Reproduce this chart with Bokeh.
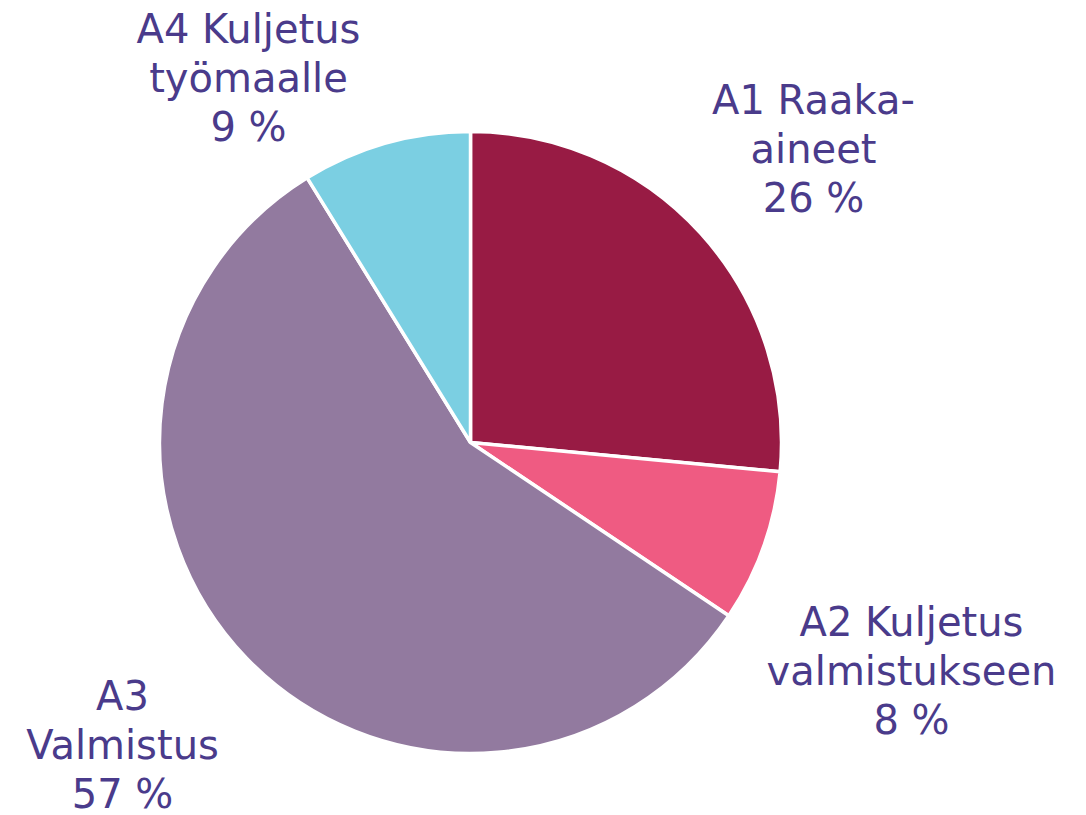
from bokeh.plotting import figure
from bokeh.models import Range1d
from bokeh.core.properties import value
from bokeh.embed import file_html
from bokeh.resources import INLINE
import math

# data
categories = ["A1 Raaka-\naineet", "A2 Kuljetus\nvalmistukseen", "A3\nValmistus", "A4 Kuljetus\ntyömaalle"]
shares = [26.5, 7.9, 56.8, 8.8]
pct_labels = ["26 %", "8 %", "57 %", "9 %"]
colors = ["#981B44", "#EF5B82", "#927A9F", "#7BCFE2"]

# layout (picture pixel coordinates)
W, H = 1086, 815
cx, cy, R = 470, 442, 311
label_anchor = [(813, 113), (911, 635), (122, 709), (248, 42)]
line_step = 49
baseline_fix = -14

p = figure(width=W, height=H, output_backend="svg", toolbar_location=None,
           x_range=Range1d(0, W), y_range=Range1d(-H, 0), min_border=0)
p.axis.visible = False
p.grid.visible = False
p.outline_line_color = None
p.background_fill_color = "white"

total = sum(shares)
cum = 0.0
starts, ends = [], []
for s in shares:
    a0 = math.pi / 2 - 2 * math.pi * cum / total
    cum += s
    a1 = math.pi / 2 - 2 * math.pi * cum / total
    starts.append(a0)
    ends.append(a1)

p.wedge(x=[cx] * 4, y=[-cy] * 4, radius=R, start_angle=starts, end_angle=ends,
        direction="clock", fill_color=colors, line_color="white", line_width=3.5)

xs, ys, ts = [], [], []
for cat, pct, (ax, ay) in zip(categories, pct_labels, label_anchor):
    lines = cat.split("\n") + [pct]
    for i, ln in enumerate(lines):
        xs.append(ax)
        ys.append(-(ay + i * line_step + baseline_fix))
        ts.append(ln)

p.text(x=xs, y=ys, text=ts, text_align="center", text_baseline="alphabetic",
       text_font=value("DejaVu Sans"), text_font_size="40px", text_color="#4A3B8B")

open("out.html", "w").write(file_html(p, INLINE))
